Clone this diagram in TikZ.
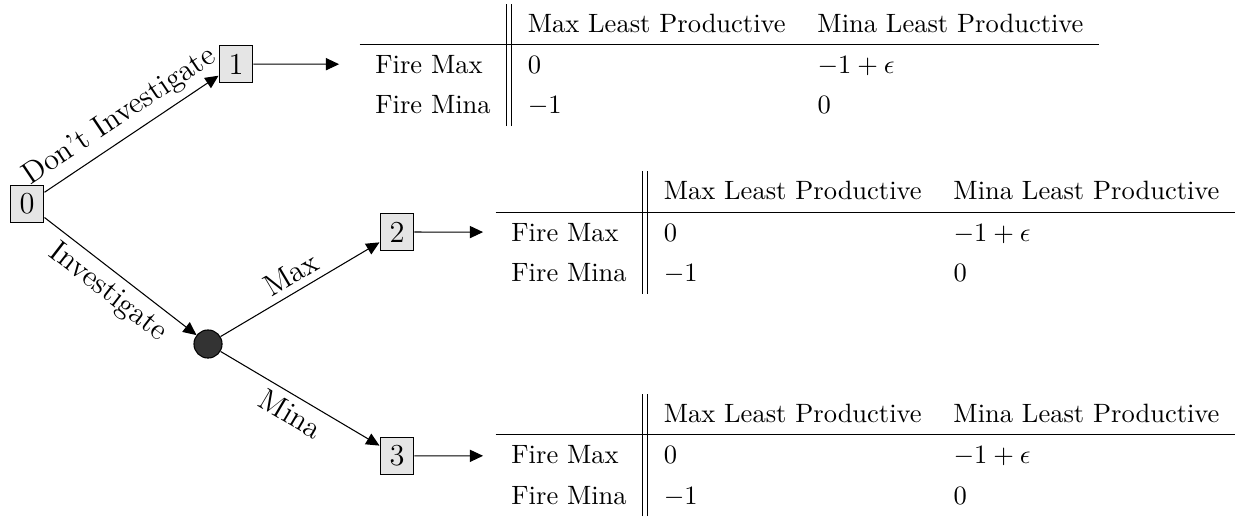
\documentclass[tikz,border=0pt]{standalone}
\usetikzlibrary{arrows.meta}
\renewcommand{\arraystretch}{1.27}
\begin{document}
\begin{tikzpicture}[x=0.37736pt,y=-0.37736pt,
  big/.style={font=\fontsize{11.5pt}{14pt}\selectfont},
  box/.style={big,draw,fill=black!10,inner sep=0pt,minimum width=12.8pt,minimum height=14.3pt},
  chance/.style={circle,draw,fill=black!80,inner sep=0pt,minimum size=10.6pt},
  arr/.style={-{Triangle[length=5pt,width=4.6pt]}},
  lbl/.style={big,sloped,inner sep=2.5pt},
  tbl/.style={inner sep=0pt,anchor=west}]
\useasboundingbox (0,0) rectangle (1235,519);
\node[box] (n0) at (27,204) {0};
\node[box] (n1) at (236,64) {1};
\node[box] (n2) at (397,232) {2};
\node[box] (n3) at (397,456) {3};
\node[chance] (c) at (208,344) {};
\node[tbl] (t1) at (359,65) {\begin{tabular}{l||ll}
 & Max Least Productive & Mina Least Productive\\ \hline
Fire Max & $0$ & $-1+\epsilon$\\
Fire Mina & $-1$ & $0$
\end{tabular}};
\node[tbl] (t2) at (495,232.5) {\begin{tabular}{l||ll}
 & Max Least Productive & Mina Least Productive\\ \hline
Fire Max & $0$ & $-1+\epsilon$\\
Fire Mina & $-1$ & $0$
\end{tabular}};
\node[tbl] (t3) at (495,455) {\begin{tabular}{l||ll}
 & Max Least Productive & Mina Least Productive\\ \hline
Fire Max & $0$ & $-1+\epsilon$\\
Fire Mina & $-1$ & $0$
\end{tabular}};
\draw[arr] (n0) -- node[lbl,above] {Don't Investigate} (n1);
\draw[arr] (n0) -- node[lbl,below] {Investigate} (c);
\draw[arr] (c) -- node[lbl,above] {Max} (n2);
\draw[arr] (c) -- node[lbl,below] {Mina} (n3);
\draw[arr,shorten >=7.5pt] (n1) -- (t1);
\draw[arr,shorten >=4.5pt] (n2) -- (t2);
\draw[arr,shorten >=4.5pt] (n3) -- (t3);
\end{tikzpicture}
\end{document}
